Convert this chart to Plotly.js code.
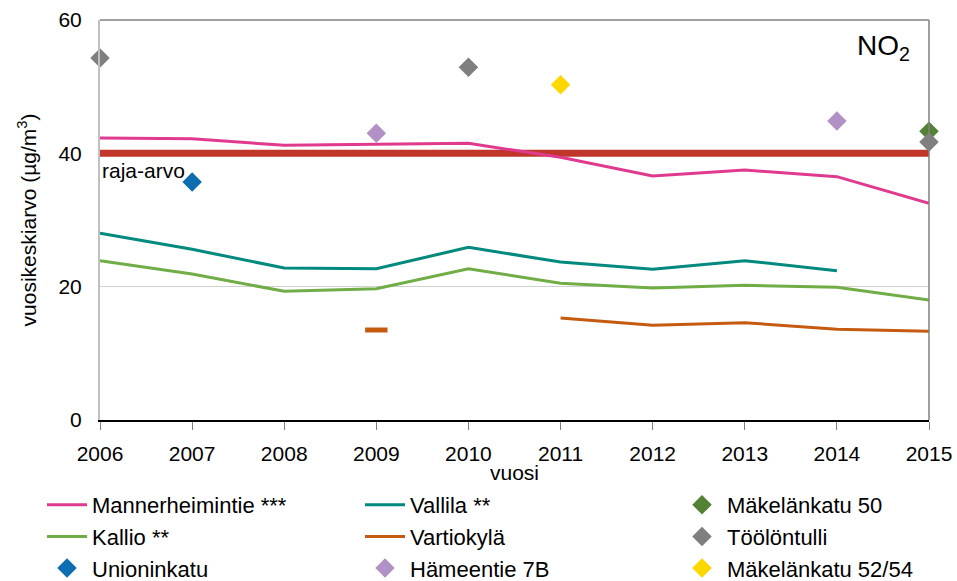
<!DOCTYPE html>
<html>
<head>
<meta charset="utf-8">
<script src="https://cdn.plot.ly/plotly-3.0.1.min.js"></script>
<style>html,body{margin:0;padding:0;background:#fff;}#chart{width:957px;height:581px;}</style>
</head>
<body>
<div id="chart"></div>
<script>
const years = [2006, 2007, 2008, 2009, 2010, 2011, 2012, 2013, 2014, 2015];
const limitValue = [40, 40, 40, 40, 40, 40, 40, 40, 40, 40];
const mannerheimintie = [42.3, 42.2, 41.2, 41.3, 41.5, 39.4, 36.6, 37.5, 36.5, 32.5];
const vallila = [28.0, 25.6, 22.8, 22.7, 25.9, 23.7, 22.6, 23.9, 22.4, null];
const kallio = [23.9, 21.9, 19.3, 19.7, 22.7, 20.5, 19.8, 20.2, 19.9, 18.0];
const vartiokyla = [null, null, null, 13.5, null, 15.3, 14.2, 14.6, 13.6, 13.3];
const makelankatu50 = [null, null, null, null, null, null, null, null, null, 43.3];
const toolontulli = [54.3, null, null, null, 52.9, null, null, null, null, 41.7];
const unioninkatu = [null, 35.7, null, null, null, null, null, null, null, null];
const hameentie = [null, null, null, 43.0, null, null, null, null, 44.85, null];
const makelankatu5254 = [null, null, null, null, null, 50.3, null, null, null, null];
const yTicks = [0, 20, 40, 60];

const FONT = '"Liberation Sans", Arial, sans-serif';

// isolated points of the Vartiokylä line (no neighbours) -> drawn as a short dash
const vartIsolated = vartiokyla.map((v, i) =>
  (v !== null && (i === 0 || vartiokyla[i-1] === null) && (i === vartiokyla.length-1 || vartiokyla[i+1] === null)) ? v : null);

function lineTrace(name, y, color, lg) {
  return {x: years, y: y, name: name, type: 'scatter', mode: 'lines', legend: lg,
    line: {color: color, width: 3}, connectgaps: false, cliponaxis: false};
}
function markTrace(name, y, color, lg) {
  return {x: years, y: y, name: name, type: 'scatter', mode: 'markers', legend: lg,
    marker: {symbol: 'diamond', size: 15, color: color}, cliponaxis: false};
}

const traces = [
  {x: years, y: limitValue, name: 'raja-arvo', type: 'scatter', mode: 'lines', showlegend: false,
   line: {color: '#C1362B', width: 7}, cliponaxis: false},
  lineTrace('Mannerheimintie ***', mannerheimintie, '#E03A8E', 'legend'),
  lineTrace('Vallila **', vallila, '#00897D', 'legend2'),
  markTrace('Mäkelänkatu 50', makelankatu50, '#548235', 'legend3'),
  lineTrace('Kallio **', kallio, '#70AD47', 'legend'),
  lineTrace('Vartiokylä', vartiokyla, '#C55A11', 'legend2'),
  markTrace('Töölöntulli', toolontulli, '#7F7F7F', 'legend3'),
  markTrace('Unioninkatu', unioninkatu, '#0E6DB0', 'legend'),
  markTrace('Hämeentie 7B', hameentie, '#B292C6', 'legend2'),
  markTrace('Mäkelänkatu 52/54', makelankatu5254, '#FFD700', 'legend3'),
  {x: years, y: vartIsolated, type: 'scatter', mode: 'markers', showlegend: false, hoverinfo: 'skip',
   marker: {symbol: 'line-ew', size: 16, line: {color: '#C55A11', width: 5}}}
];

function legendAt(xPx) {
  return {
    orientation: 'v', xref: 'paper', yref: 'container',
    x: (xPx - 100) / 857, xanchor: 'left', y: 1 - 484 / 581, yanchor: 'top',
    tracegroupgap: 0, itemwidth: 40, traceorder: 'normal',
    font: {family: FONT, size: 22, color: '#000'}, bgcolor: 'rgba(0,0,0,0)', borderwidth: 0
  };
}

const layout = {
  width: 957, height: 581,
  margin: {l: 100, r: 0, t: 20, b: 161},
  paper_bgcolor: '#fff', plot_bgcolor: '#fff',
  font: {family: FONT, size: 21, color: '#000'},
  showlegend: true,
  xaxis: {
    domain: [0, 829 / 857],
    range: [2006, 2015], tickvals: years, ticktext: years.map(String),
    showgrid: false, zeroline: false,
    showline: true, linecolor: '#000', linewidth: 1.5,
    ticks: 'outside', ticklen: 8, tickcolor: '#808080', tickwidth: 1,
    ticklabelstandoff: 6,
    tickfont: {family: FONT, size: 21, color: '#000'},
    title: {text: 'vuosi', font: {family: FONT, size: 21, color: '#000'}, standoff: 18}
  },
  yaxis: {
    range: [0, 60], tickvals: yTicks, ticktext: yTicks.map(String),
    showgrid: true, gridcolor: '#D0D0D0', gridwidth: 1, zeroline: false,
    showline: true, linecolor: '#C0C0C0', linewidth: 2,
    ticks: '', ticklabelstandoff: 12,
    tickfont: {family: FONT, size: 21, color: '#000'},
    title: {text: 'vuosikeskiarvo (µg/m<sup>3</sup>)', font: {family: FONT, size: 21, color: '#000'}, standoff: 16}
  },
  legend: legendAt(42),
  legend2: legendAt(360),
  legend3: legendAt(677),
  shapes: [
    {type: 'line', xref: 'x domain', yref: 'paper', x0: 0, x1: 1, y0: 1, y1: 1, line: {color: '#808080', width: 1.5}},
    {type: 'line', xref: 'x domain', yref: 'paper', x0: 1, x1: 1, y0: 0, y1: 1, line: {color: '#808080', width: 1.5}}
  ],
  annotations: [
    {xref: 'x domain', yref: 'paper', x: 0.945, y: 0.93, xanchor: 'center', yanchor: 'middle', showarrow: false,
     text: 'NO<sub>2</sub>', font: {family: FONT, size: 28, color: '#000'}},
    {xref: 'x domain', yref: 'y', x: 0, y: 40, xanchor: 'left', yanchor: 'top', yshift: -4, showarrow: false,
     text: 'raja-arvo', font: {family: FONT, size: 21, color: '#000'}}
  ]
};

Plotly.newPlot('chart', traces, layout, {displayModeBar: false, responsive: false});
</script>
</body>
</html>
